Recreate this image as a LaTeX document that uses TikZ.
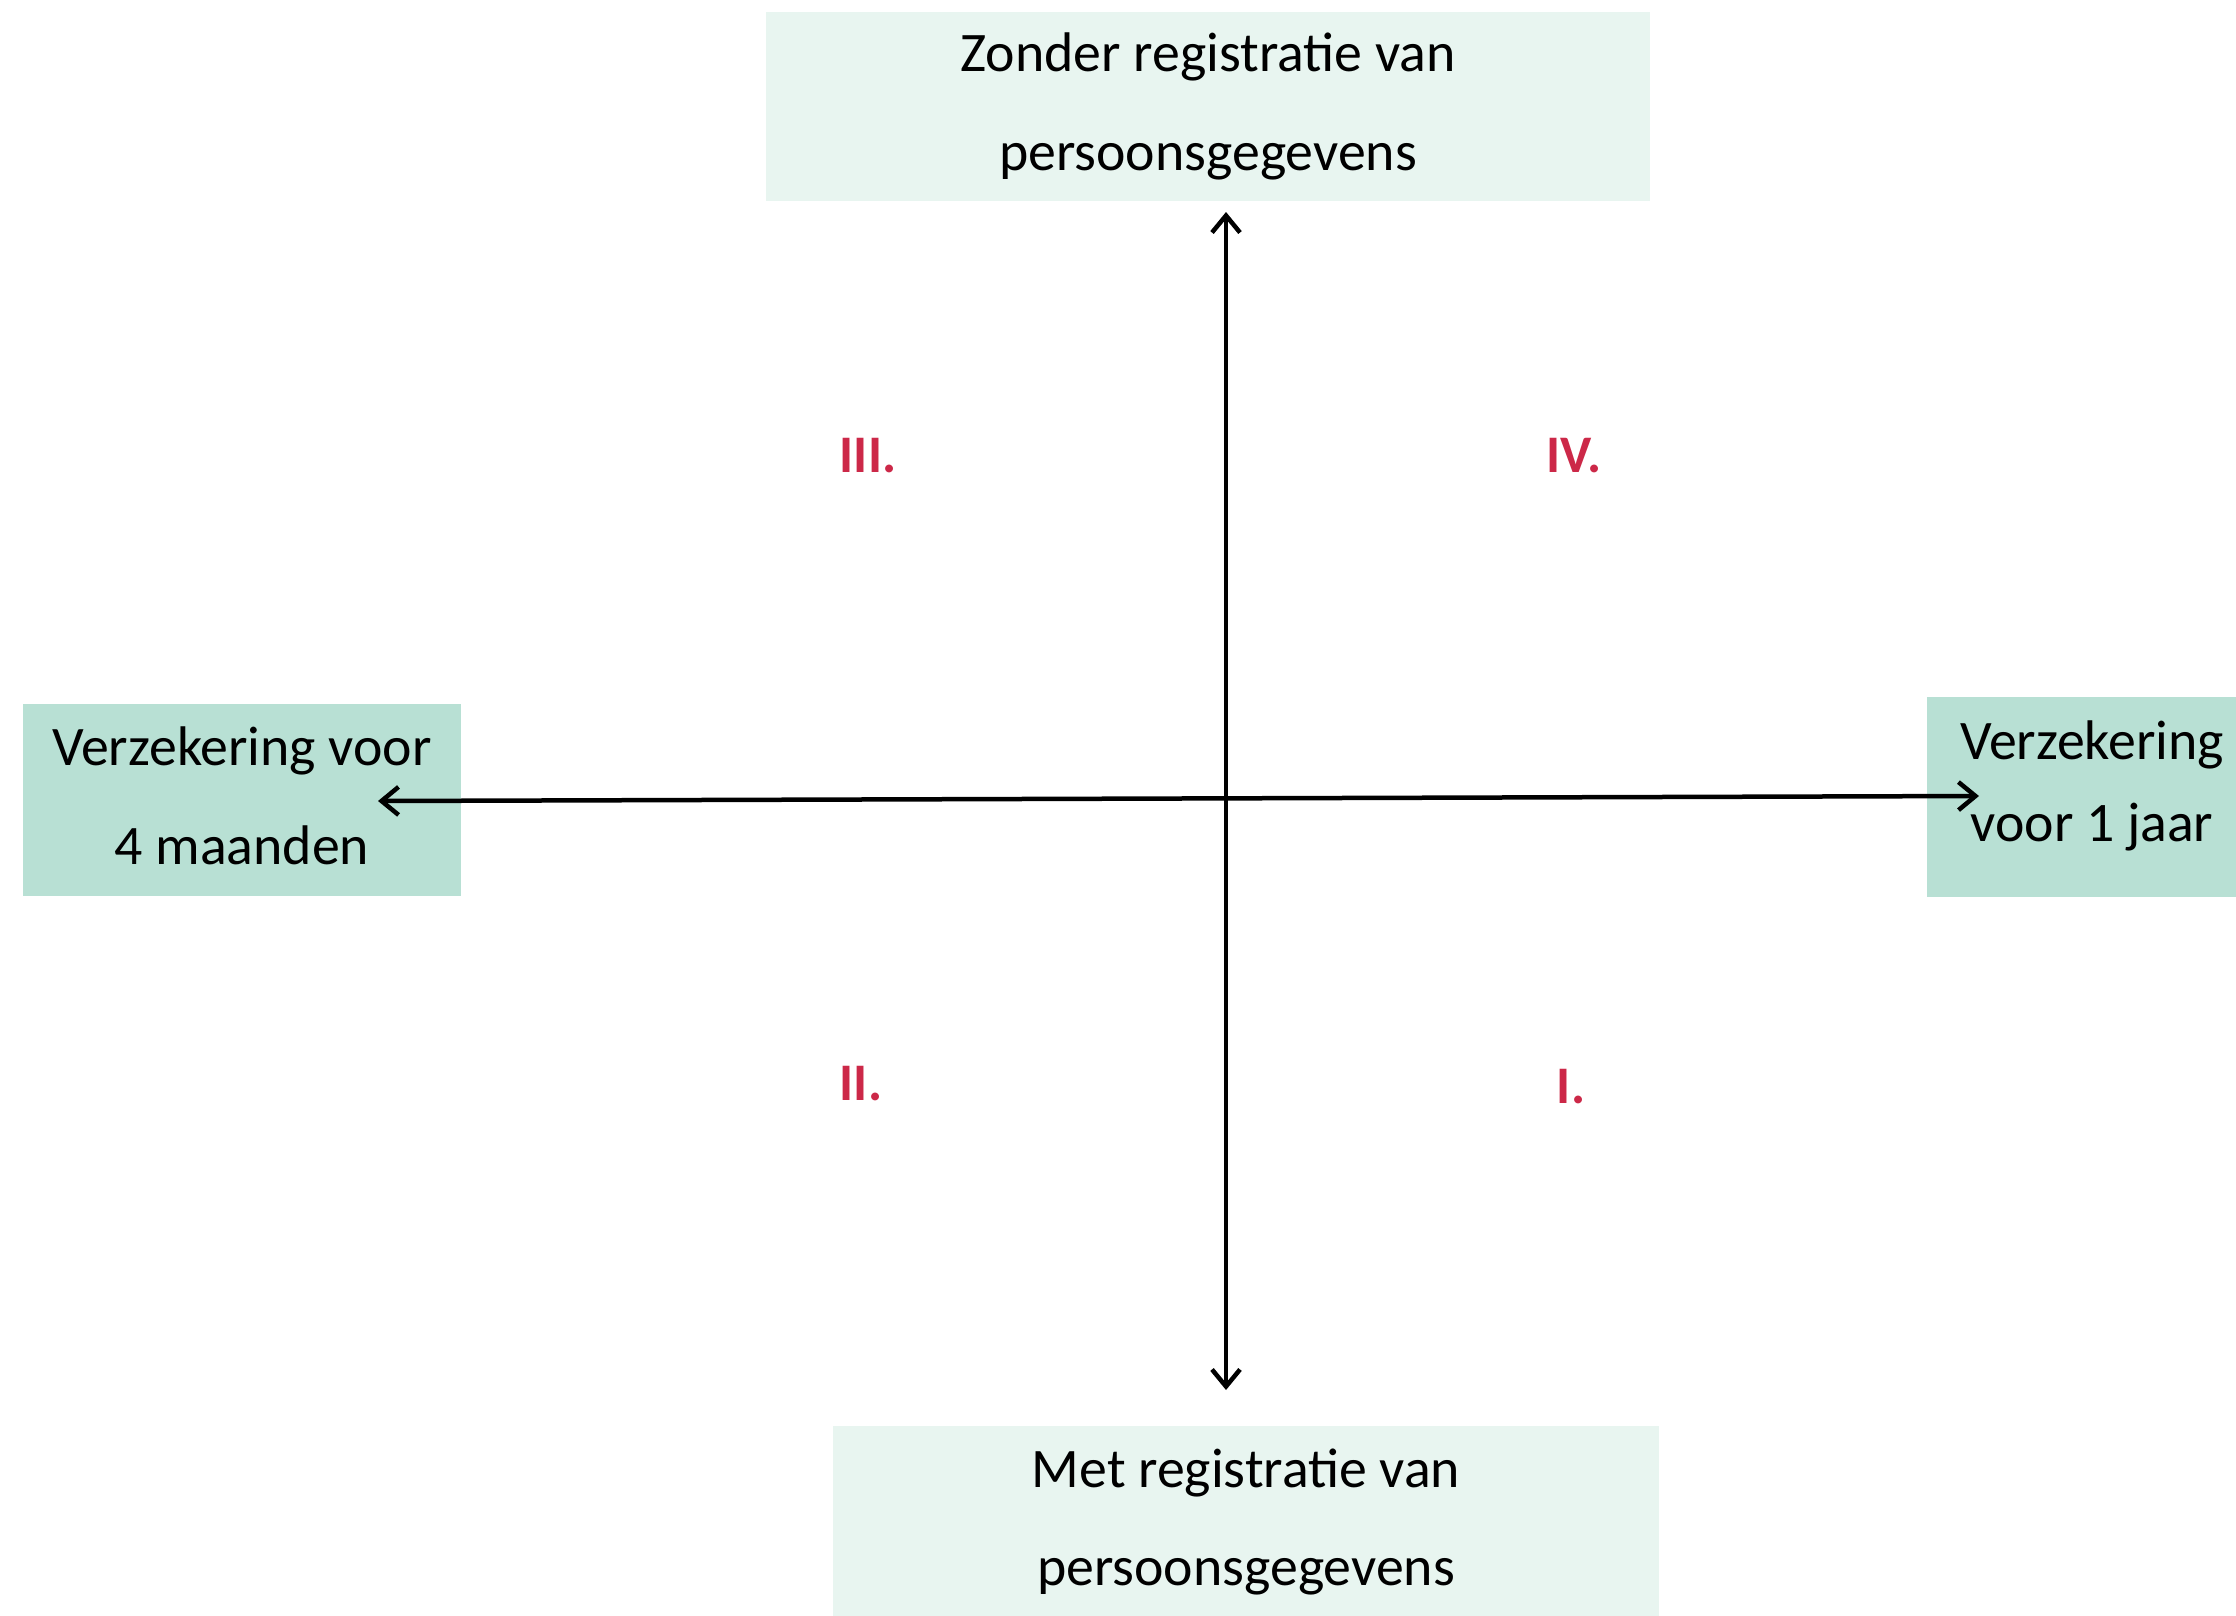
\documentclass[tikz,border=0pt]{standalone}
\usepackage{fontspec}
\setmainfont{Carlito}
\usetikzlibrary{arrows.meta}
\definecolor{boxdark}{RGB}{184,224,212}
\definecolor{boxlight}{RGB}{232,245,240}
\definecolor{quadred}{RGB}{204,40,72}
\tikzset{
  labelbox/.style={inner sep=0pt, align=center, font=\fontsize{56}{99}\selectfont},
  quad/.style={font=\fontsize{53}{60}\selectfont\bfseries, text=quadred, inner sep=0pt},
  axis/.style={line width=4.5bp, {Straight Barb[length=17bp,width=28bp,line width=4.5bp]}-{Straight Barb[length=17bp,width=28bp,line width=4.5bp]}}
}
\begin{document}
\begin{tikzpicture}[x=1bp,y=-1bp]
\useasboundingbox (0,0) rectangle (2236,1615);
\fill[white] (0,0) rectangle (2236,1615);
% boxes
\node[labelbox, fill=boxlight, minimum width=884bp, minimum height=189bp] (top) at (1208,106.5) {Zonder registratie van\\persoonsgegevens};
\node[labelbox, fill=boxlight, minimum width=826bp, minimum height=192bp] (bottom) at (1246,1522) {Met registratie van\\persoonsgegevens};
\fill[boxdark] (23,704) rectangle (461,896);
\node[labelbox] (left) at (242,796) {Verzekering voor\\4 maanden};
\fill[boxdark] (1927,697) rectangle (2236,897);
\node[labelbox, font=\fontsize{56}{83}\selectfont] (right) at (2092,786) {Verzekering\\voor 1 jaar};
% axis end points
\coordinate (vtop) at (1226,212);
\coordinate (vbot) at (1226,1390);
\coordinate (hleft) at (378,801);
\coordinate (hright) at (1979,796);
\draw[axis] (vtop) -- (vbot);
\draw[axis] (hleft) -- (hright);
% quadrant labels
\node[quad] (q3) at (868,456) {III.};
\node[quad] (q4) at (1574,456) {IV.};
\node[quad] (q2) at (861,1084) {II.};
\node[quad] (q1) at (1571,1087) {I.};
\end{tikzpicture}
\end{document}
